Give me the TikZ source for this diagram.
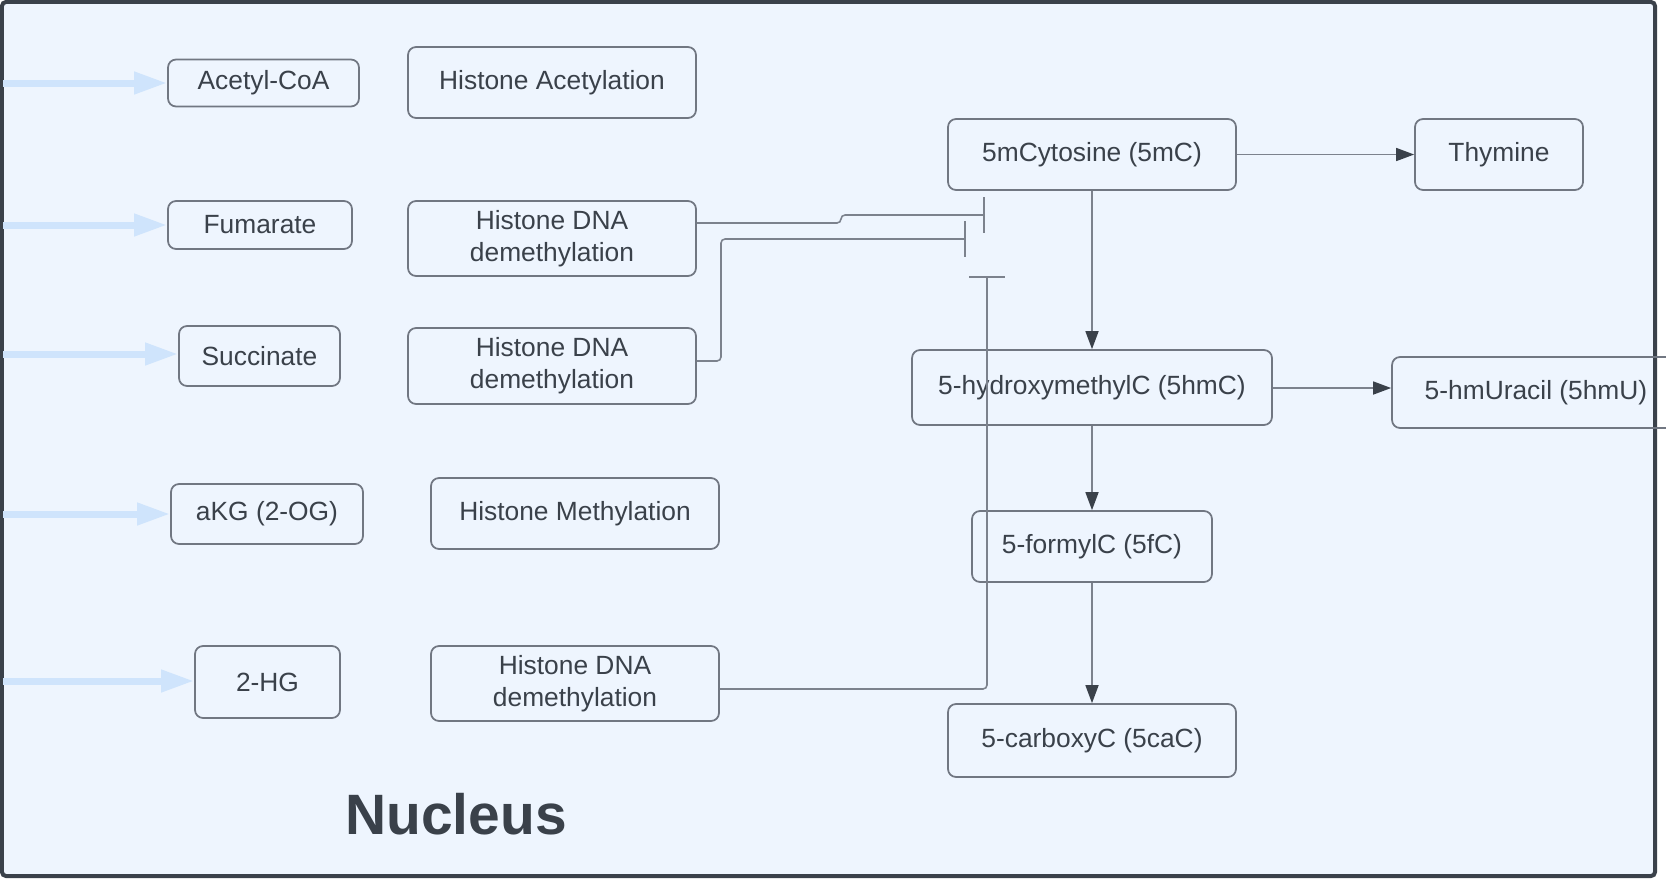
\documentclass[tikz,border=0pt]{standalone}
\usepackage{fontspec}
\setmainfont{Liberation Sans}
\usetikzlibrary{arrows.meta,positioning}
\definecolor{nucbg}{HTML}{EEF5FE}
\definecolor{inkdark}{HTML}{3A414A}
\definecolor{boxgray}{HTML}{717782}
\definecolor{linegray}{HTML}{7C828D}
\definecolor{feedblue}{HTML}{CFE4FC}
\tikzset{
  mbox/.style={draw=boxgray, line width=1pt, rounded corners=0.16cm, text=inkdark,
    align=center, inner sep=0pt, font=\fontsize{15}{18.2}\selectfont},
  feed/.style={feedblue, line width=0.14cm, -{Triangle[length=0.66cm,width=0.42cm]}},
  conv/.style={linegray, line width=0.9pt, -{Triangle[length=0.36cm,width=0.26cm,color=inkdark]}},
  inhib/.style={linegray, line width=0.9pt, rounded corners=0.08cm, -{Bar[width=0.72cm]}}
}
\begin{document}
\begin{tikzpicture}[x=0.02cm, y=-0.02cm]
   \useasboundingbox (0,0) rectangle (1666,889);
   \draw[inkdark, line width=0.08cm, fill=nucbg, rounded corners=0.08cm] (2,2) rectangle (1655,876);
   % metabolites
   \node[mbox, minimum width=3.82cm, minimum height=0.94cm] (acetyl)    at (263.5,83)  {Acetyl-CoA};
   \node[mbox, minimum width=3.68cm, minimum height=0.96cm] (fumarate)  at (260,225)   {Fumarate};
   \node[mbox, minimum width=3.22cm, minimum height=1.2cm]  (succinate) at (259.5,356) {Succinate};
   \node[mbox, minimum width=3.84cm, minimum height=1.2cm]  (akg)       at (267,514)   {aKG (2-OG)};
   \node[mbox, minimum width=2.9cm,  minimum height=1.44cm] (hg)        at (267.5,682) {2-HG};
   % histone effects
   \node[mbox, minimum width=5.76cm, minimum height=1.42cm] (hacet) at (552,82.5)  {Histone Acetylation};
   \node[mbox, minimum width=5.76cm, minimum height=1.5cm]  (hdm1)  at (552,238.5) {Histone DNA\\demethylation};
   \node[mbox, minimum width=5.76cm, minimum height=1.52cm] (hdm2)  at (552,366)   {Histone DNA\\demethylation};
   \node[mbox, minimum width=5.76cm, minimum height=1.42cm] (hmeth) at (575,513.5) {Histone Methylation};
   \node[mbox, minimum width=5.76cm, minimum height=1.5cm]  (hdm3)  at (575,683.5) {Histone DNA\\demethylation};
   % cytosine chain
   \node[mbox, minimum width=5.76cm, minimum height=1.42cm] (mc)  at (1092,154.5) {5mCytosine (5mC)};
   \node[mbox, minimum width=3.36cm, minimum height=1.42cm] (thy) at (1499,154.5) {Thymine};
   \node[mbox, minimum width=7.2cm,  minimum height=1.5cm]  (hmc) at (1092,387.5) {5-hydroxymethylC (5hmC)};
   \node[mbox, minimum width=5.76cm, minimum height=1.42cm] (hmu) at (1536,392.5) {5-hmUracil (5hmU)};
   \node[mbox, minimum width=4.8cm,  minimum height=1.42cm] (fc)  at (1092,546.5) {5-formylC (5fC)};
   \node[mbox, minimum width=5.76cm, minimum height=1.46cm] (cac) at (1092,740.5) {5-carboxyC (5caC)};
   \node[text=inkdark, font=\bfseries\fontsize{32.4}{36}\selectfont, anchor=base] (nucleus) at (456,834) {Nucleus};
   % inputs from the cytoplasm
   \foreach \n/\y in {acetyl/83, fumarate/225, succinate/354, akg/514, hg/681} {
     \coordinate (src-\n) at (3,\y);
     \draw[feed] (src-\n) -- (\n.west |- src-\n);
   }
   \path[conv]
    (mc) edge (thy)
    (mc) edge (hmc)
    (hmc.east |- 0,388) edge (hmu.west |- 0,388)
    (hmc) edge (fc)
    (fc) edge (cac);
   % inhibition
   \coordinate (bar1) at (985,215);
   \coordinate (bar2) at (966,239);
   \coordinate (bar3) at (987,276);
   \draw[inhib] ([yshift=0.31cm]hdm1.east) -- (841,223) |- (bar1);
   \draw[inhib] ([yshift=0.1cm]hdm2.east) -- (721,361) |- (bar2);
   \draw[inhib] ([yshift=-0.11cm]hdm3.east) -| (bar3);
\end{tikzpicture}
\end{document}
